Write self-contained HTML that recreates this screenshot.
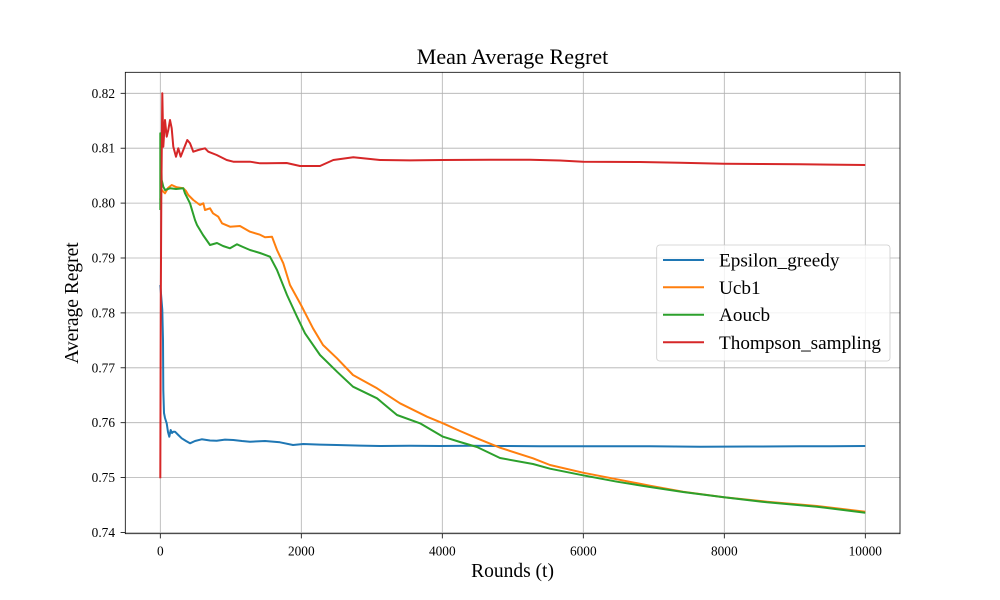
<!DOCTYPE html>
<html>
<head>
<meta charset="utf-8">
<style>
  html, body { margin: 0; padding: 0; background: #fff; }
  svg { display: block; }
  text { font-family: "Liberation Serif", "Times New Roman", serif; fill: #000; }
</style>
</head>
<body>
<svg width="1000" height="600" viewBox="0 0 1000 600" xmlns="http://www.w3.org/2000/svg">
  <rect x="0" y="0" width="1000" height="600" fill="#fff"/>

  <!-- grid -->
  <g stroke="#b0b0b0" stroke-width="0.8" fill="none">
    <line x1="160.3" y1="72" x2="160.3" y2="534"/>
    <line x1="301.3" y1="72" x2="301.3" y2="534"/>
    <line x1="442.3" y1="72" x2="442.3" y2="534"/>
    <line x1="583.3" y1="72" x2="583.3" y2="534"/>
    <line x1="724.3" y1="72" x2="724.3" y2="534"/>
    <line x1="865.3" y1="72" x2="865.3" y2="534"/>
    <line x1="125" y1="93.3" x2="900" y2="93.3"/>
    <line x1="125" y1="148.2" x2="900" y2="148.2"/>
    <line x1="125" y1="203.1" x2="900" y2="203.1"/>
    <line x1="125" y1="258" x2="900" y2="258"/>
    <line x1="125" y1="312.9" x2="900" y2="312.9"/>
    <line x1="125" y1="367.8" x2="900" y2="367.8"/>
    <line x1="125" y1="422.7" x2="900" y2="422.7"/>
    <line x1="125" y1="477.6" x2="900" y2="477.6"/>
    <line x1="125" y1="532.5" x2="900" y2="532.5"/>
  </g>

  <!-- series -->
  <g fill="none" stroke-width="2" stroke-linejoin="round" stroke-linecap="butt">
    <!-- Epsilon_greedy -->
    <polyline stroke="#1f77b4" points="160.3,285 161.5,300 162.3,310 163,340 163.3,390 164,413 165,418 166.7,423.3 168,432 169.3,436.7 170.7,430 172,433 173.3,431.7 175,431.7 178.3,435 181.7,438.3 186,441 190,443.3 195,441 201.7,439.3 210,440.5 216.7,440.7 225,439.6 233.3,440 242,441 250,441.7 265,441 280,442.3 293,445 303.3,444 320,444.6 336.7,445 360,445.6 380,446 410,445.7 440,446 470,445.8 500,446 540,446.2 583,446.3 620,446.2 650,446.3 700,446.7 750,446.5 800,446.3 830,446.2 865.3,446"/>
    <!-- Ucb1 -->
    <polyline stroke="#ff7f0e" points="160.3,200 161,192 161.7,190 165,193.3 168,188 171.7,185 176.7,187.3 183.3,188.3 186,191 188.3,195 193.3,200 200,205 203.3,203.3 205,210 210,208.3 213,213.3 218.3,216.7 222,223.3 230,226.7 240,226 250,231.7 260,234.7 265,237.3 272,236.7 277,250 283.3,263.3 290,285 301,305 313,328.3 323,345 337,358.3 353,375 377,388.3 400,403.3 427,416.7 443,423.3 460,431 477,438.3 500,447.7 533,458.3 550,465 583,472.7 617,479.3 650,485.7 683,491.7 724,497.3 767,501.7 817,506 865.3,511.7"/>
    <!-- Aoucb -->
    <polyline stroke="#2ca02c" points="160.3,210 160.3,133.3 161,150 161.7,180 163.3,186.7 165,190 170,188.3 176,189 183.3,188.3 185,193.3 190,203.3 195,220 197,225 203,235 210,245 217,243 223,246 230,248.3 237,244.3 243,247 250,250 260,253 270,256.7 277,270 287,295 297,316.7 305,333.3 320,355 337,371.7 353,386.7 377,398.3 397,415 420,423.3 443,436.7 460,442 477,447 500,458 533,464 550,468.7 583,475.3 617,481.7 650,487 683,492 724,497.3 767,502.3 817,506.7 865.3,512.7"/>
    <!-- Thompson_sampling -->
    <polyline stroke="#d62728" points="160.3,478.3 160.8,300 161.3,200 162.3,93.3 163.3,146.7 165,120 166.7,136.7 168.3,130 170,120 171.7,128.3 173.3,146.7 176,156.7 178.3,148.3 180.7,156.7 183.3,150 187.3,140 190,143.3 193.3,151.7 198.3,150 205,148.3 208.3,151.7 216.7,155 226.7,160 233.3,161.7 250,161.7 260,163.3 266.7,163.3 286.7,163 300,166 320,166 333.3,160 353.3,157.3 380,160 410,160.4 442,160 490,159.8 530,159.7 560,160.5 583,161.7 640,162 680,162.8 724,163.7 760,164 800,164.3 830,164.6 865.3,165"/>
  </g>

  <!-- axes frame -->
  <rect x="125.3" y="72.3" width="774.7" height="461.4" fill="none" stroke="#000" stroke-width="0.8"/>

  <!-- ticks -->
  <g stroke="#000" stroke-width="0.8">
    <line x1="160.3" y1="533.7" x2="160.3" y2="538.4"/>
    <line x1="301.3" y1="533.7" x2="301.3" y2="538.4"/>
    <line x1="442.3" y1="533.7" x2="442.3" y2="538.4"/>
    <line x1="583.3" y1="533.7" x2="583.3" y2="538.4"/>
    <line x1="724.3" y1="533.7" x2="724.3" y2="538.4"/>
    <line x1="865.3" y1="533.7" x2="865.3" y2="538.4"/>
    <line x1="120.6" y1="93.3" x2="125.3" y2="93.3"/>
    <line x1="120.6" y1="148.2" x2="125.3" y2="148.2"/>
    <line x1="120.6" y1="203.1" x2="125.3" y2="203.1"/>
    <line x1="120.6" y1="258" x2="125.3" y2="258"/>
    <line x1="120.6" y1="312.9" x2="125.3" y2="312.9"/>
    <line x1="120.6" y1="367.8" x2="125.3" y2="367.8"/>
    <line x1="120.6" y1="422.7" x2="125.3" y2="422.7"/>
    <line x1="120.6" y1="477.6" x2="125.3" y2="477.6"/>
    <line x1="120.6" y1="532.5" x2="125.3" y2="532.5"/>
  </g>

  <!-- x tick labels -->
  <g font-size="13.33" text-anchor="middle">
    <text x="160.3" y="555.5">0</text>
    <text x="301.3" y="555.5">2000</text>
    <text x="442.3" y="555.5">4000</text>
    <text x="583.3" y="555.5">6000</text>
    <text x="724.3" y="555.5">8000</text>
    <text x="865.3" y="555.5">10000</text>
  </g>

  <!-- y tick labels -->
  <g font-size="13.33" text-anchor="end">
    <text x="115" y="97.8">0.82</text>
    <text x="115" y="152.7">0.81</text>
    <text x="115" y="207.6">0.80</text>
    <text x="115" y="262.5">0.79</text>
    <text x="115" y="317.4">0.78</text>
    <text x="115" y="372.3">0.77</text>
    <text x="115" y="427.2">0.76</text>
    <text x="115" y="482.1">0.75</text>
    <text x="115" y="537">0.74</text>
  </g>

  <!-- title and axis labels -->
  <text x="512.5" y="64" font-size="22" text-anchor="middle">Mean Average Regret</text>
  <text x="512.5" y="577" font-size="19.5" text-anchor="middle">Rounds (t)</text>
  <text x="0" y="0" font-size="19.5" text-anchor="middle" transform="translate(78,303) rotate(-90)">Average Regret</text>

  <!-- legend -->
  <rect x="656.7" y="245" width="233.3" height="116" rx="3" ry="3" fill="#fff" fill-opacity="0.8" stroke="#cccccc" stroke-width="0.8"/>
  <g stroke-width="2">
    <line x1="663" y1="260" x2="704" y2="260" stroke="#1f77b4"/>
    <line x1="663" y1="287.3" x2="704" y2="287.3" stroke="#ff7f0e"/>
    <line x1="663" y1="314.7" x2="704" y2="314.7" stroke="#2ca02c"/>
    <line x1="663" y1="342.3" x2="704" y2="342.3" stroke="#d62728"/>
  </g>
  <g font-size="19.2">
    <text x="719" y="266.5">Epsilon_greedy</text>
    <text x="719" y="293.8">Ucb1</text>
    <text x="719" y="321.2">Aoucb</text>
    <text x="719" y="348.8">Thompson_sampling</text>
  </g>
</svg>
</body>
</html>
